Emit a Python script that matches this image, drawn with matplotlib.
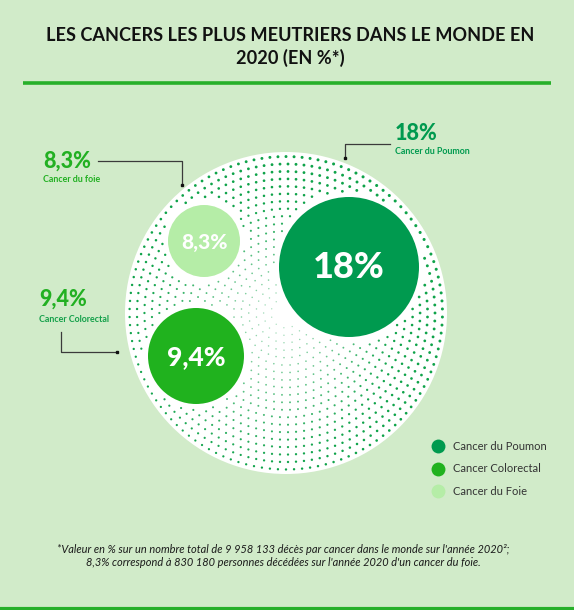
import numpy as np
import matplotlib
matplotlib.use("Agg")
import matplotlib.pyplot as plt
from matplotlib.patches import Circle

# ---- data ----
categories = ["Cancer du Poumon", "Cancer Colorectal", "Cancer du Foie"]
values = [18.0, 9.4, 8.3]
value_labels = ["18%", "9,4%", "8,3%"]
callout_names = ["Cancer du Poumon", "Cancer Colorectal", "Cancer du foie"]
colors = ["#009a4f", "#20b21e", "#b5eda7"]

title = "LES CANCERS LES PLUS MEUTRIERS DANS LE MONDE EN\n2020 (EN %*)"
footnote = ("*Valeur en % sur un nombre total de 9 958 133 décès par cancer dans le monde sur l'année 2020²;\n"
            "8,3% correspond à 830 180 personnes décédées sur l'année 2020 d'un cancer du foie.")

# ---- layout (pixel space) ----
W, H = 574, 610
BG = "#d1ebc9"
LINE = "#27b02a"
centers = [(349, 267), (196, 356), (204, 241)]
radii = [70, 48, 36]
big_c, big_r = (286, 313), 161

fig = plt.figure(figsize=(W / 100, H / 100), dpi=100, facecolor=BG)
ax = fig.add_axes([0, 0, 1, 1])
ax.set_xlim(0, W)
ax.set_ylim(H, 0)
ax.set_aspect("equal")
ax.axis("off")
ax.set_facecolor(BG)

FONT = "Lato"

# title
ax.text(290, 47, title, ha="center", va="center", fontsize=13.1, fontweight="bold",
        family=FONT, color="#111111", linespacing=1.3)
ax.plot([23, 551], [83, 83], color=LINE, lw=2.6, solid_capstyle="butt")
ax.plot([0, W], [608.5, 608.5], color=LINE, lw=3, solid_capstyle="butt")

# big white circle
ax.add_patch(Circle(big_c, big_r, facecolor="white", edgecolor="none", zorder=1))

# halftone dots
xs, ys, ss, cs = [], [], [], []
step = 7.45
base = np.array([15, 163, 74]) / 255.0
for k in range(2, 40):
    r = k * step
    if r > big_r - 3:
        break
    n = int(2 * np.pi * r / 8.0)
    th = np.linspace(0, 2 * np.pi, n, endpoint=False) + (k % 2) * np.pi / n
    px = big_c[0] + r * np.cos(th)
    py = big_c[1] + r * np.sin(th)
    for x, y in zip(px, py):
        skip = False
        for (cx, cy), rr in zip(centers, radii):
            if (x - cx) ** 2 + (y - cy) ** 2 < (rr + 5) ** 2:
                skip = True
        if skip:
            continue
        f = r / big_r
        dirf = ((x - big_c[0]) * 0.5 - (y - big_c[1]) * 0.5) / big_r
        s = (0.8 + 3.0 * f ** 1.3) * (1.0 + 0.45 * dirf)
        a = min(1.0, 0.3 + 0.9 * f + 0.3 * dirf)
        a = max(a, 0.25)
        col = 1 - (1 - base) * a
        xs.append(x); ys.append(y); ss.append(max(s, 0.6)); cs.append(col)
ax.scatter(xs, ys, s=ss, c=cs, linewidths=0, zorder=2)

# category circles
for (cx, cy), rr, col, lab, i in zip(centers, radii, colors, value_labels, range(3)):
    ax.add_patch(Circle((cx, cy), rr, facecolor=col, edgecolor="none", zorder=3))
    fs = [26, 19, 15][i]
    ax.text(cx, cy + 1, lab, ha="center", va="center", color="white", fontsize=fs,
            fontweight="black", family=FONT, zorder=4)

# callouts
lc = "#3a3a3a"
# foie
ax.text(43, 161, value_labels[2], ha="left", va="center", color="#22b022", fontsize=15.5,
        fontweight="black", family=FONT)
ax.text(43, 180, callout_names[2], ha="left", va="center", color="#22b022", fontsize=6.4,
        fontweight="bold", family=FONT)
ax.plot([98, 182, 182], [161, 161, 185], color=lc, lw=0.9)
ax.plot([182], [185], marker="s", ms=2, color="#111111")
# colorectal
ax.text(39, 299, value_labels[1], ha="left", va="center", color="#22b022", fontsize=15.5,
        fontweight="black", family=FONT)
ax.text(39, 320, callout_names[1], ha="left", va="center", color="#14a04a", fontsize=6.4,
        fontweight="bold", family=FONT)
ax.plot([61, 61, 117], [332, 352, 352], color=lc, lw=0.9)
ax.plot([117], [352], marker="s", ms=2, color="#111111")
# poumon
ax.text(395, 134, value_labels[0], ha="left", va="center", color="#009a4f", fontsize=15.5,
        fontweight="black", family=FONT)
ax.text(395, 151, callout_names[0], ha="left", va="center", color="#009a4f", fontsize=6.4,
        fontweight="bold", family=FONT)
ax.plot([390, 345, 345], [144, 144, 158], color=lc, lw=0.9)
ax.plot([345], [158], marker="s", ms=2, color="#111111")

# legend
for i, (cat, col) in enumerate(zip(categories, colors)):
    y = 446 + i * 22.5
    ax.plot([437.5], [y], marker="o", ms=10, color=col, mec="none")
    ax.text(453, y + 0.5, cat, ha="left", va="center", fontsize=8, color="#333333", family=FONT)

# footnote
ax.text(283, 556, footnote, ha="center", va="center", fontsize=7.9, style="italic",
        color="#1a1a1a", family=FONT, linespacing=1.25)

fig.savefig("out.png", dpi=100, facecolor=BG)
